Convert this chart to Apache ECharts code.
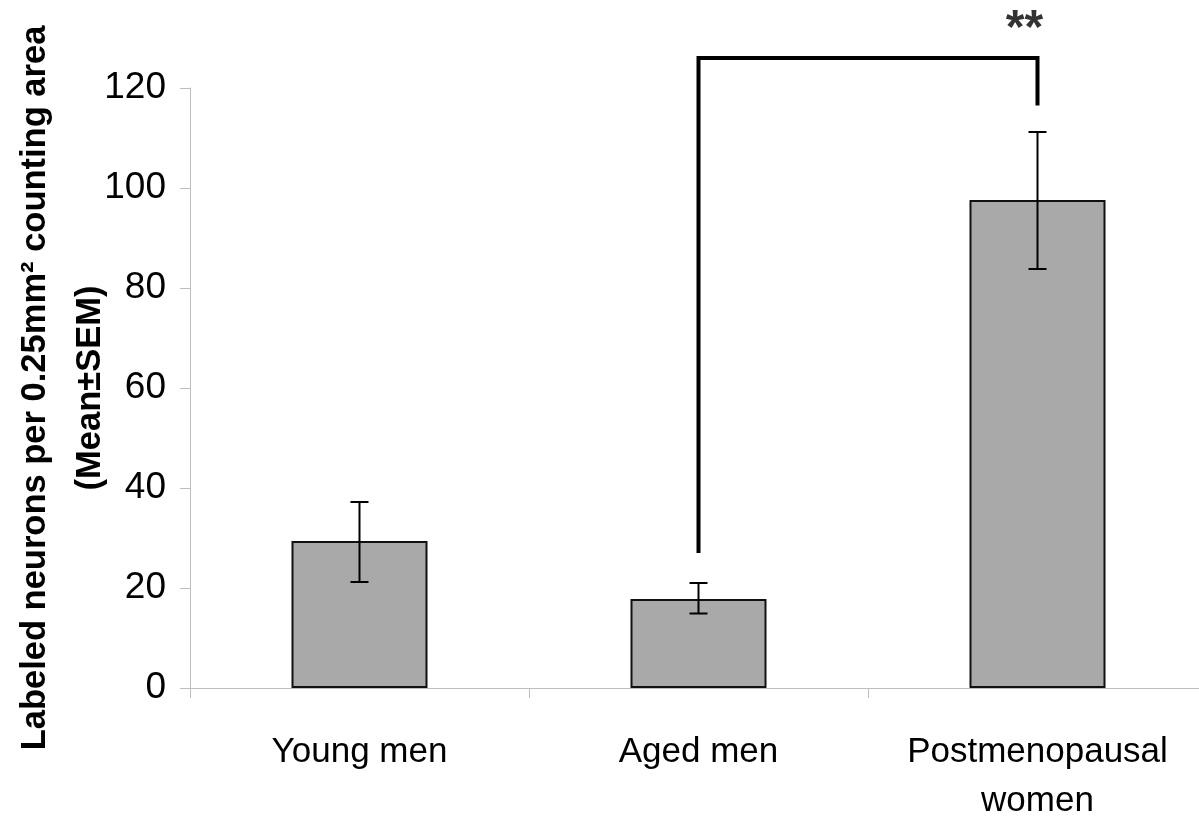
<!DOCTYPE html>
<html>
<head>
<meta charset="utf-8">
<script src="https://cdn.jsdelivr.net/npm/echarts@6/dist/echarts.min.js"></script>
<style>html,body{margin:0;padding:0;background:#fff;}#c{width:1199px;height:818px;}</style>
</head>
<body>
<div id="c"></div>
<script>
const categories = ['Young men', 'Aged men', 'Postmenopausal\nwomen'];
const means = [29.4, 17.8, 97.6];
const errLow = [21.2, 14.9, 83.8];
const errHigh = [37.2, 21.0, 111.2];
const yTicks = [0, 20, 40, 60, 80, 100, 120];
const bracketBottomLeft = 27;
const bracketTop = 126;
const bracketBottomRight = 116.5;
const sigLabel = '**';

const chart = echarts.init(document.getElementById('c'));
const narrow = '"Liberation Sans Narrow", "Arial Narrow", "Liberation Sans", Arial, sans-serif';
chart.setOption({
  animation: false,
  grid: { left: 190, right: -8, top: 88, bottom: 130, containLabel: false, outerBoundsMode: 'none' },
  xAxis: {
    type: 'category',
    data: categories,
    axisLine: { lineStyle: { color: '#bdbdbd', width: 1 } },
    axisTick: { show: true, length: 10, lineStyle: { color: '#bdbdbd' } },
    axisLabel: { interval: 0, color: '#000', fontSize: 35, fontFamily: narrow, margin: 40, lineHeight: 49 },
    splitLine: { show: false }
  },
  yAxis: {
    type: 'value',
    min: yTicks[0], max: yTicks[yTicks.length - 1], interval: 20,
    name: 'Labeled neurons per 0.25mm\u00b2 counting area\n(Mean\u00b1SEM)',
    nameLocation: 'middle',
    nameGap: 72,
    nameMoveOverlap: false,
    nameRotate: 90,
    nameTextStyle: { color: '#000', fontSize: 34.5, fontWeight: 'bold', fontFamily: narrow, lineHeight: 55 },
    axisLine: { show: true, lineStyle: { color: '#bdbdbd', width: 1 } },
    axisTick: { show: true, length: 10, lineStyle: { color: '#bdbdbd' } },
    axisLabel: { color: '#000', fontSize: 37, fontFamily: '"Liberation Sans", Arial, sans-serif', margin: 24 },
    splitLine: { show: false }
  },
  series: [
    {
      type: 'bar',
      data: means,
      barWidth: 136,
      itemStyle: { color: '#a9a9a9', borderColor: '#111', borderWidth: 2 },
      z: 2
    },
    {
      type: 'custom',
      z: 3,
      data: means.map((m, i) => [i, errLow[i], errHigh[i]]),
      renderItem: function (params, api) {
        const x = api.value(0);
        const lo = api.coord([x, api.value(1)]);
        const hi = api.coord([x, api.value(2)]);
        const cw = 9;
        const style = { stroke: '#000', lineWidth: 2, fill: null };
        return {
          type: 'group',
          children: [
            { type: 'line', shape: { x1: lo[0], y1: lo[1], x2: hi[0], y2: hi[1] }, style: style },
            { type: 'line', shape: { x1: lo[0] - cw, y1: lo[1], x2: lo[0] + cw, y2: lo[1] }, style: style },
            { type: 'line', shape: { x1: hi[0] - cw, y1: hi[1], x2: hi[0] + cw, y2: hi[1] }, style: style }
          ]
        };
      }
    },
    {
      type: 'line',
      clip: false,
      z: 4,
      symbol: 'none',
      lineStyle: { color: '#000', width: 4, join: 'miter' },
      data: [
        [categories[1], bracketBottomLeft],
        [categories[1], bracketTop],
        [categories[2], bracketTop],
        [categories[2], bracketBottomRight]
      ]
    },
    {
      type: 'scatter',
      clip: false,
      z: 5,
      symbol: 'circle',
      symbolSize: 1,
      itemStyle: { color: 'rgba(0,0,0,0)' },
      data: [[categories[2], bracketTop]],
      label: {
        show: true, formatter: sigLabel, position: 'top', distance: 0,
        offset: [-13, -4],
        color: '#000', fontSize: 48, fontWeight: 'bold', fontFamily: '"Liberation Sans", Arial, sans-serif'
      }
    }
  ]
});
</script>
</body>
</html>
